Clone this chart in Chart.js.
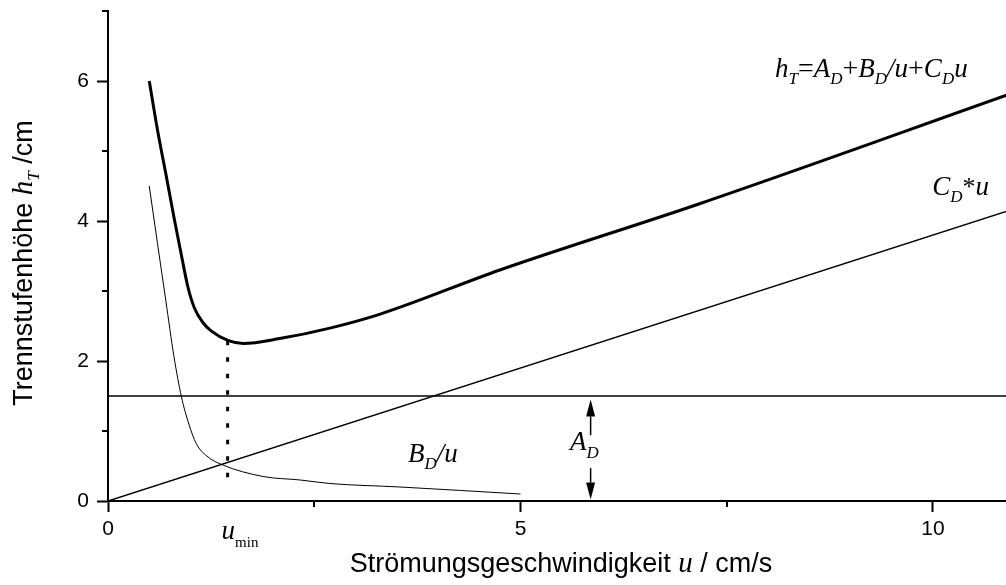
<!DOCTYPE html>
<html>
<head>
<meta charset="utf-8">
<script src="https://cdn.jsdelivr.net/npm/chart.js@4/dist/chart.umd.min.js"></script>
<style>
  html, body { margin: 0; padding: 0; background: #fff; }
  canvas { display: block; }
</style>
</head>
<body>
<canvas id="htChart" width="1006" height="585"></canvas>
<script>
// Werte (u in cm/s, h in cm)
const hT_u     = [0.5, 0.6, 0.7, 0.8, 0.9, 0.97, 1.05, 1.15, 1.25, 1.46, 1.64, 2.08, 2.69, 3.3, 4.75, 7.18, 10.9];
const hT_val   = [6.0, 5.3, 4.68, 4.05, 3.45, 3.05, 2.75, 2.55, 2.43, 2.29, 2.25, 2.32, 2.47, 2.67, 3.3, 4.25, 5.8];
const bd_u     = [0.5, 0.6, 0.7, 0.8, 0.89, 0.98, 1.07, 1.2, 1.38, 1.88, 2.33, 2.69, 3.54, 5.0];
const bd_val   = [4.5, 3.68, 2.87, 2.06, 1.49, 1.1, 0.82, 0.64, 0.52, 0.35, 0.30, 0.25, 0.20, 0.10];
const cd_u     = [0, 11];
const cd_val   = [0, 4.18];
const ad_u     = [0, 11];
const ad_val   = [1.5, 1.5];
const umin_u   = [1.45, 1.45];
const umin_val = [2.29, 0.17];

const xLabels = [0, 5, 10];
const yLabels = [0, 2, 4, 6];
const xMinor  = [2.5, 7.5];
const yMinor  = [1, 3, 5, 7];

const pts = (xs, ys) => xs.map((x, i) => ({ x: x, y: ys[i] }));

const SANS = '"Liberation Sans", Arial, sans-serif';
const SERIF = '"Liberation Serif", "Times New Roman", serif';
const IT = 'italic 27px ' + SERIF;
const SUB = 'italic 17px ' + SERIF;
const RM = '28px ' + SERIF;

function runsWidth(ctx, runs) {
    let w = 0;
    runs.forEach(r => { ctx.font = r[1]; w += ctx.measureText(r[0]).width; });
    return w;
}
function drawRuns(ctx, x, y, runs) {
    let cx = x;
    runs.forEach(r => {
        ctx.font = r[1];
        ctx.fillText(r[0], cx, y + (r[2] || 0));
        cx += ctx.measureText(r[0]).width;
    });
}
function arrow(ctx, x, yFrom, yTip) {
    const dir = yTip < yFrom ? -1 : 1;
    const head = 17, half = 4.5;
    ctx.beginPath();
    ctx.moveTo(x, yFrom);
    ctx.lineTo(x, yTip - dir * head);
    ctx.stroke();
    ctx.beginPath();
    ctx.moveTo(x, yTip);
    ctx.lineTo(x - half, yTip - dir * head);
    ctx.lineTo(x + half, yTip - dir * head);
    ctx.closePath();
    ctx.fill();
}

const extras = {
    id: 'extras',
    afterDraw(chart) {
        const ctx = chart.ctx;
        const xs = chart.scales.x, ys = chart.scales.y;
        const area = chart.chartArea;
        ctx.save();
        ctx.strokeStyle = '#000';
        ctx.fillStyle = '#000';
        ctx.textBaseline = 'alphabetic';
        ctx.textAlign = 'left';

        // kleine Ticks
        ctx.lineWidth = 2;
        xMinor.forEach(v => {
            const px = Math.round(xs.getPixelForValue(v));
            ctx.beginPath(); ctx.moveTo(px, area.bottom); ctx.lineTo(px, area.bottom + 6); ctx.stroke();
        });
        yMinor.forEach(v => {
            const py = Math.round(ys.getPixelForValue(v));
            ctx.beginPath(); ctx.moveTo(area.left, py); ctx.lineTo(area.left - 6, py); ctx.stroke();
        });

        // Pfeile fuer A_D
        ctx.lineWidth = 1.5;
        const ax = xs.getPixelForValue(5.85);
        arrow(ctx, ax, ys.getPixelForValue(0.94), ys.getPixelForValue(1.45));
        arrow(ctx, ax, ys.getPixelForValue(0.47), ys.getPixelForValue(0.02));

        // Beschriftungen im Diagramm
        drawRuns(ctx, xs.getPixelForValue(8.085), ys.getPixelForValue(6.057), [
            ['h', IT], ['T', SUB, 7], ['=', RM], ['A', IT], ['D', SUB, 7], ['+', RM],
            ['B', IT], ['D', SUB, 7], ['/u', IT], ['+', RM], ['C', IT], ['D', SUB, 7], ['u', IT]
        ]);
        drawRuns(ctx, xs.getPixelForValue(9.99), ys.getPixelForValue(4.371), [
            ['C', IT], ['D', SUB, 7], ['*', '26px ' + SERIF], ['u', IT]
        ]);
        drawRuns(ctx, xs.getPixelForValue(3.636), ys.getPixelForValue(0.557), [
            ['B', IT], ['D', SUB, 7], ['/u', IT]
        ]);
        drawRuns(ctx, xs.getPixelForValue(5.6), ys.getPixelForValue(0.729), [
            ['A', IT], ['D', SUB, 8]
        ]);
        drawRuns(ctx, xs.getPixelForValue(1.45) - 6, area.bottom + 38, [
            ['u', IT], ['min', '15px ' + SERIF, 8]
        ]);

        // Achsentitel
        const TS = '27px ' + SANS;
        const xt = [['Strömungsgeschwindigkeit ', TS], ['u', 'italic 29px ' + SERIF], [' / cm/s', TS]];
        drawRuns(ctx, 561 - runsWidth(ctx, xt) / 2, 572, xt);

        const yt = [['Trennstufenhöhe ', TS], ['h', 'italic 29px ' + SERIF], ['T', SUB, 7], [' /cm', TS]];
        ctx.translate(32, 263);
        ctx.rotate(-Math.PI / 2);
        drawRuns(ctx, -runsWidth(ctx, yt) / 2, 0, yt);
        ctx.restore();
    }
};

const lineSet = (data, width, extra) => Object.assign({
    data: data,
    showLine: true,
    borderColor: '#000',
    backgroundColor: '#000',
    borderWidth: width,
    pointRadius: 0,
    tension: 0,
    fill: false
}, extra || {});

new Chart(document.getElementById('htChart').getContext('2d'), {
    type: 'scatter',
    data: {
        datasets: [
            lineSet(pts(hT_u, hT_val), 3, { cubicInterpolationMode: 'monotone' }),
            lineSet(pts(bd_u, bd_val), 1, { cubicInterpolationMode: 'monotone' }),
            lineSet(pts(cd_u, cd_val), 1.5),
            lineSet(pts(ad_u, ad_val), 1.5),
            lineSet(pts(umin_u, umin_val), 3, { borderDash: [4.5, 12], borderCapStyle: 'butt' })
        ]
    },
    options: {
        responsive: false,
        animation: false,
        layout: { padding: { top: 11, right: 0, bottom: 0, left: 0 } },
        plugins: {
            legend: { display: false },
            tooltip: { enabled: false }
        },
        scales: {
            x: {
                type: 'linear',
                min: 0,
                max: 10.885,
                afterBuildTicks: scale => { scale.ticks = xLabels.map(v => ({ value: v })); },
                afterFit: scale => { scale.height = 84; scale.paddingLeft = 0; scale.paddingRight = 0; },
                border: { display: true, color: '#000', width: 2 },
                grid: { drawOnChartArea: false, drawTicks: true, tickLength: 11, tickWidth: 2, tickColor: '#000' },
                ticks: { color: '#000', font: { family: SANS, size: 21 }, padding: 5, maxRotation: 0 }
            },
            y: {
                type: 'linear',
                min: 0,
                max: 7,
                afterBuildTicks: scale => { scale.ticks = yLabels.map(v => ({ value: v })); },
                afterFit: scale => { scale.width = 108; scale.paddingTop = 0; scale.paddingBottom = 0; },
                border: { display: true, color: '#000', width: 2 },
                grid: { drawOnChartArea: false, drawTicks: true, tickLength: 11, tickWidth: 2, tickColor: '#000' },
                ticks: { color: '#000', font: { family: SANS, size: 21 }, padding: 8 }
            }
        }
    },
    plugins: [extras]
});
</script>
</body>
</html>
